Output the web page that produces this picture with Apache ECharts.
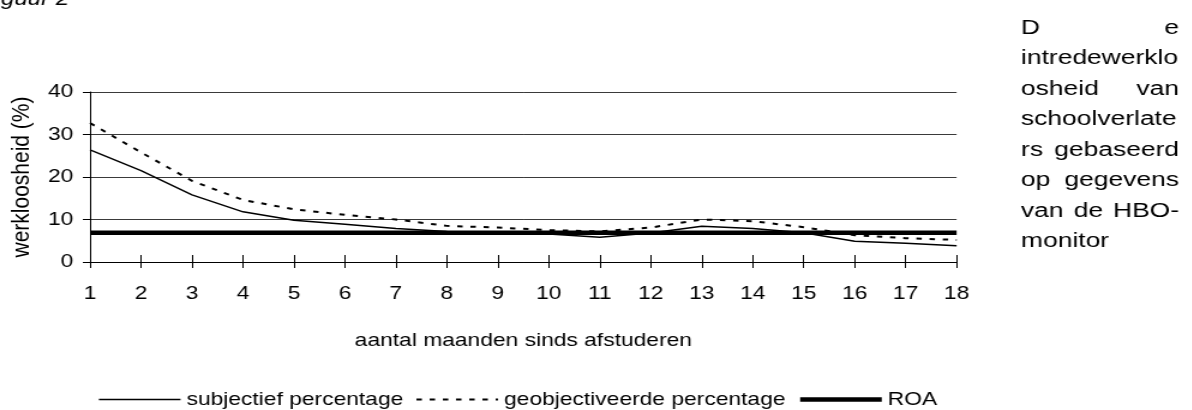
<!DOCTYPE html>
<html><head><meta charset="utf-8">
<script src="https://cdn.jsdelivr.net/npm/echarts@6/dist/echarts.min.js"></script>
<style>
html,body{margin:0;padding:0;background:#fff;overflow:hidden;width:1192px;height:410px;}
#chart{width:993.333px;height:410px;transform:scaleX(1.2);transform-origin:0 0;}
</style></head><body><div id="chart"></div>
<script>
// ---- data ----
const categories = ['1','2','3','4','5','6','7','8','9','10','11','12','13','14','15','16','17','18'];
const subjectief = [26.4, 21.5, 15.8, 11.8, 9.8, 8.9, 7.9, 7.2, 7.0, 6.6, 5.8, 6.8, 8.4, 7.9, 6.9, 4.9, 4.4, 3.8];
const geobjectiveerd = [32.7, 25.8, 19.1, 14.6, 12.4, 11.1, 10.0, 8.5, 8.1, 7.5, 7.2, 8.1, 10.0, 9.6, 8.2, 6.3, 5.6, 5.2];
const roa = [6.9, 6.9, 6.9, 6.9, 6.9, 6.9, 6.9, 6.9, 6.9, 6.9, 6.9, 6.9, 6.9, 6.9, 6.9, 6.9, 6.9, 6.9];
const yTicks = [0, 10, 20, 30, 40];
const seriesNames = ['subjectief percentage', 'geobjectiveerde percentage', 'ROA'];
const xAxisName = 'aantal maanden sinds afstuderen';
const yAxisName = 'werkloosheid (%)';
const figureTitle = 'Figuur 2';
const sideTextLines = [['D','e'],['intredewerklo'],['osheid','van'],['schoolverlate'],['rs','gebaseerd'],['op','gegevens'],['van','de','HBO-'],['monitor']];

// ---- layout ----
const S = 1.2;               // horizontal stretch of the whole picture
const FONT = 'Liberation Sans';
const fs = 19;

const chart = echarts.init(document.getElementById('chart'), null, {renderer: 'canvas'});

// side paragraph (justified)
const sideFs = 20, sideScale = 1.1;
const sideLeft = 1021 / S, sideRight = 1179 / S, sideTop = 28, sideStep = 30.5;
const ctx = document.createElement('canvas').getContext('2d');
ctx.font = sideFs + 'px "' + FONT + '"';
const graphics = [];
sideTextLines.forEach((words, i) => {
  const y = sideTop + i * sideStep;
  const widths = words.map(w => ctx.measureText(w).width * sideScale);
  const total = widths.reduce((a, b) => a + b, 0);
  const gap = words.length > 1 ? (sideRight - sideLeft - total) / (words.length - 1) : 0;
  let x = sideLeft;
  words.forEach((w, j) => {
    graphics.push({type: 'text', x: x, y: y, scaleX: sideScale, silent: true,
      style: {text: w, fill: '#000', fontSize: sideFs, fontFamily: FONT, textAlign: 'left', textVerticalAlign: 'middle'}});
    x += widths[j] + gap;
  });
});
graphics.push({type: 'text', x: -19 / S, y: -1, silent: true,
  style: {text: figureTitle, fill: '#000', fontSize: 20, fontFamily: FONT, fontStyle: 'italic', textAlign: 'left', textVerticalAlign: 'middle'}});

const hiddenSymbol = {opacity: 0, color: 'rgba(0,0,0,0)', borderWidth: 0};
const option = {
  animation: false,
  backgroundColor: '#fff',
  textStyle: {fontFamily: FONT, color: '#000'},
  grid: {left: 90 / S, right: (1192 - 957) / S, top: 92, bottom: 148, containLabel: false},
  legend: {
    left: 92 / S, top: 385, itemWidth: 68, itemHeight: 14, itemGap: 10,
    textStyle: {fontSize: fs, color: '#000', fontFamily: FONT},
    itemStyle: hiddenSymbol,
    data: [
      {name: seriesNames[0], lineStyle: {width: 1.5}, itemStyle: hiddenSymbol},
      {name: seriesNames[1], lineStyle: {width: 2}, itemStyle: hiddenSymbol},
      {name: seriesNames[2], lineStyle: {width: 4.5}, itemStyle: hiddenSymbol}
    ]
  },
  xAxis: [{
    type: 'category', data: categories, boundaryGap: false,
    name: xAxisName, nameLocation: 'middle', nameGap: 69,
    nameTextStyle: {fontSize: fs, color: '#000', fontFamily: FONT},
    axisLine: {lineStyle: {color: '#000', width: 1}},
    axisTick: {inside: true, length: 7, lineStyle: {color: '#000'}},
    axisLabel: {fontSize: fs, color: '#000', margin: 22, fontFamily: FONT, interval: 0},
    splitLine: {show: false}
  }, {
    type: 'category', data: categories, boundaryGap: false, position: 'bottom',
    axisLine: {show: false},
    axisTick: {inside: false, length: 6, lineStyle: {color: '#000'}},
    axisLabel: {show: false}, splitLine: {show: false}
  }],
  yAxis: {
    type: 'value', min: yTicks[0], max: yTicks[yTicks.length - 1], interval: yTicks[1] - yTicks[0],
    name: yAxisName, nameLocation: 'middle', nameGap: 46,
    nameTextStyle: {fontSize: 21, color: '#000', fontFamily: FONT},
    axisLine: {show: true, lineStyle: {color: '#000', width: 1}},
    axisTick: {show: true, length: 6, lineStyle: {color: '#000'}},
    axisLabel: {fontSize: fs, color: '#000', margin: 14, fontFamily: FONT},
    splitLine: {show: true, lineStyle: {color: '#3a3a3a', width: 1}}
  },
  series: [
    {name: seriesNames[0], type: 'line', data: subjectief, symbol: 'none', showSymbol: false, z: 3,
     lineStyle: {color: '#000', width: 1.5}, itemStyle: {color: '#000'}},
    {name: seriesNames[1], type: 'line', data: geobjectiveerd, symbol: 'none', showSymbol: false, z: 3,
     lineStyle: {color: '#000', width: 2, type: [4.5, 6.5]}, itemStyle: {color: '#000'}},
    {name: seriesNames[2], type: 'line', data: roa, symbol: 'none', showSymbol: false, z: 2,
     lineStyle: {color: '#000', width: 4.5}, itemStyle: {color: '#000'}}
  ],
  graphic: graphics
};
chart.setOption(option);
</script></body></html>
